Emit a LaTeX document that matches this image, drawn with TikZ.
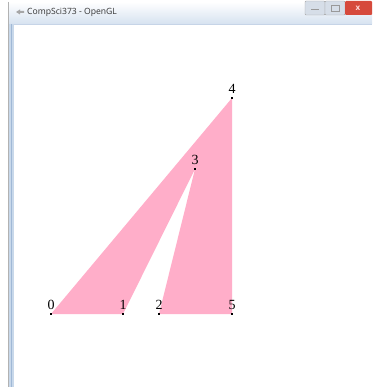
\documentclass[tikz,border=0pt]{standalone}
\usepackage{fontspec}
\setmainfont{Liberation Serif}
\newfontfamily\uifont{Open Sans}
\definecolor{glpink}{RGB}{255,174,201}
\definecolor{titlebar}{RGB}{214,226,240}
\definecolor{framebl}{RGB}{200,216,234}
\definecolor{frameln}{RGB}{160,184,214}
\definecolor{closered}{RGB}{214,74,60}
\definecolor{btngray}{RGB}{214,222,232}
\begin{document}
\begin{tikzpicture}[x=1pt,y=-1pt,
  vlabel/.style={font=\fontsize{14}{14}\selectfont, inner sep=0pt, anchor=south},
  vdot/.style={fill=black, minimum size=2.2pt, inner sep=0pt, draw=none}]
\useasboundingbox (0,0) rectangle (372,387);
% window frame
\fill[white] (0,0) rectangle (372,387);
\fill[top color=white, bottom color=titlebar] (8,2) rectangle (372,24);
\fill[framebl] (8,24) rectangle (14,387);
\draw[frameln, line width=1pt] (11,24) -- (11,387);
\draw[frameln!60, line width=0.6pt] (14,24) -- (372,24);
\draw[gray!60, line width=0.5pt] (8,2) -- (8,387);
% title
\node[anchor=west, inner sep=0pt, font=\uifont\fontsize{8.6}{8.6}\selectfont, text=black!80] (title) at (27,12) {CompSci373 - OpenGL};
\fill[gray!70] (16,12) -- (20,9.5) -- (20,11) -- (24,11) -- (24,13) -- (20,13) -- (20,14.5) -- cycle;
% buttons
\draw[gray!70, fill=btngray, rounded corners=1pt] (305,1) rectangle (325,15);
\draw[gray!70, fill=btngray, rounded corners=1pt] (325,1) rectangle (345,15);
\fill[closered, rounded corners=1pt] (345,1) rectangle (372,15);
\draw[gray!80, line width=1pt] (311,10) -- (319,10);
\draw[gray!80, line width=0.8pt] (331,5) rectangle (339,11);
\node[text=white!85!red, font=\uifont\bfseries\fontsize{8}{8}\selectfont, inner sep=0pt] (close) at (358,8) {x};
% vertices
\coordinate (p0) at (51,314);
\coordinate (p1) at (123,314);
\coordinate (p2) at (159,314);
\coordinate (p3) at (195,169);
\coordinate (p4) at (232,98);
\coordinate (p5) at (232,314);
\fill[glpink] (p0) -- (p1) -- (p3) -- (p2) -- (p5) -- (p4) -- cycle;
\foreach \i in {0,...,5} {
  \node[vdot] (d\i) at (p\i) {};
  \node[vlabel] (l\i) at ([yshift=4pt]p\i) {\i};
}
\end{tikzpicture}
\end{document}
